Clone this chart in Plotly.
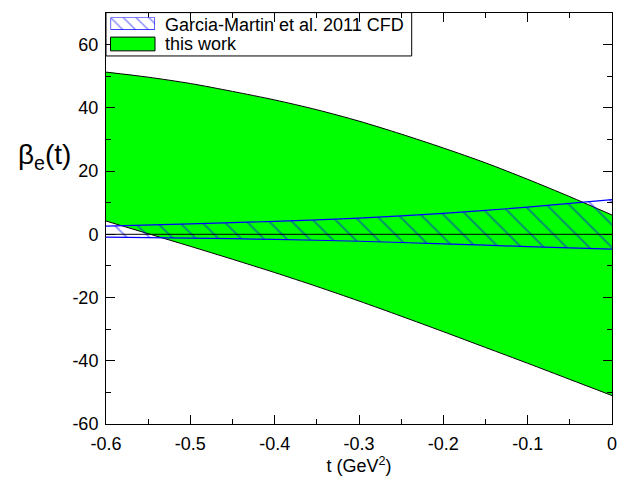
import plotly.graph_objects as go

# t grid (GeV^2)
t_this = [-0.6, -0.55, -0.5, -0.45, -0.4, -0.35, -0.3, -0.25, -0.2, -0.15, -0.1, -0.05, 0.0]
this_upper = [51.3, 49.7, 47.7, 45.2, 42.5, 39.4, 35.8, 31.7, 27.3, 22.6, 17.4, 11.9, 6.1]
this_lower = [4.2, 0.2, -3.8, -7.9, -12.1, -16.5, -21.1, -25.9, -30.8, -35.8, -40.8, -45.9, -51.0]

t_gm = [-0.6, -0.5, -0.4, -0.3, -0.2, -0.1, 0.0]
gm_upper = [2.6, 3.3, 4.1, 5.1, 6.6, 8.6, 11.0]
gm_lower = [-0.9, -1.2, -1.6, -2.2, -3.0, -3.9, -4.7]

x_ticks = [-0.6, -0.5, -0.4, -0.3, -0.2, -0.1, 0]
x_ticklabels = ["-0.6", "-0.5", "-0.4", "-0.3", "-0.2", "-0.1", "0"]
y_ticks = [-60, -40, -20, 0, 20, 40, 60]
y_ticklabels = ["-60", "-40", "-20", "0", "20", "40", "60"]

legend_names = ["Garcia-Martin et al. 2011 CFD", "this work"]

FONT = "Liberation Sans, Arial, sans-serif"
GREEN = "#00ff00"
BLUE = "#0000ff"

fig = go.Figure()

# this work: band between lower and upper
fig.add_trace(go.Scatter(
    x=t_this, y=this_lower, mode="lines",
    line=dict(color="black", width=1, shape="spline", smoothing=0.8),
    showlegend=False, hoverinfo="skip",
))
fig.add_trace(go.Scatter(
    x=t_this, y=this_upper, mode="lines", fill="tonexty", fillcolor=GREEN,
    line=dict(color="black", width=1, shape="spline", smoothing=0.8),
    showlegend=False, hoverinfo="skip",
))

# Garcia-Martin et al. 2011 CFD: hatched band
fig.add_trace(go.Scatter(
    x=t_gm, y=gm_lower, mode="lines",
    line=dict(color=BLUE, width=1.2, shape="spline", smoothing=0.8),
    showlegend=False, hoverinfo="skip",
))
fig.add_trace(go.Scatter(
    x=t_gm, y=gm_upper, mode="lines", fill="tonexty",
    fillcolor="rgba(0,0,0,0)",
    fillpattern=dict(shape="\\", fgcolor=BLUE, bgcolor="rgba(0,0,0,0)",
                     size=16, solidity=0.1),
    line=dict(color=BLUE, width=1.2, shape="spline", smoothing=0.8),
    showlegend=False, hoverinfo="skip",
))

# zero reference line
fig.add_shape(type="line", xref="paper", x0=0, x1=1, yref="y", y0=0, y1=0,
              line=dict(color="black", width=1), layer="above")

axis_common = dict(
    showline=True, linecolor="black", linewidth=1, mirror="ticks",
    ticks="inside", ticklen=9, tickwidth=1, tickcolor="black",
    showgrid=False, zeroline=False,
    tickfont=dict(family=FONT, size=18, color="black"),
)

fig.update_xaxes(
    range=[-0.6, 0], tickvals=x_ticks, ticktext=x_ticklabels,
    minor=dict(dtick=0.05, ticks="inside", ticklen=5, tickcolor="black"),
    title=dict(text="t (GeV<sup>2</sup>)", font=dict(family=FONT, size=18, color="black"), standoff=6),
    ticklabelstandoff=3,
    **axis_common,
)
fig.update_yaxes(
    range=[-60, 70], tickvals=y_ticks, ticktext=y_ticklabels,
    minor=dict(dtick=10, ticks="inside", ticklen=5, tickcolor="black"),
    ticklabelstandoff=3,
    **axis_common,
)

fig.add_annotation(
    text="β<sub>e</sub>(t)", xref="paper", yref="paper",
    x=-0.066, y=0.652, xanchor="right", yanchor="middle", showarrow=False,
    font=dict(family=FONT, size=28, color="black"),
)

# ---- manual legend (box, swatches, labels) ----
def px_x(p):
    return (p - 106) / 506.0

def px_y(p):
    return (431 - p) / 418.0

fig.add_shape(type="rect", xref="paper", yref="paper",
              x0=px_x(106), x1=px_x(411.7), y0=px_y(12.6), y1=px_y(56.7),
              line=dict(color="black", width=1), fillcolor="white", layer="below")

# hatched swatch via a small helper axis
sw1 = (px_x(110.5), px_x(155), px_y(30), px_y(17.5))
fig.update_layout(
    xaxis2=dict(domain=[sw1[0], sw1[1]], range=[0, 1], visible=False, anchor="y2", fixedrange=True),
    yaxis2=dict(domain=[sw1[2], sw1[3]], range=[0, 1], visible=False, anchor="x2", fixedrange=True),
)
fig.add_trace(go.Scatter(
    x=[0, 1, 1, 0, 0], y=[0, 0, 1, 1, 0], xaxis="x2", yaxis="y2",
    mode="lines", fill="toself", fillcolor="white",
    fillpattern=dict(shape="\\", fgcolor=BLUE, bgcolor="white", size=9, solidity=0.15),
    line=dict(color=BLUE, width=1.2), showlegend=False, hoverinfo="skip",
    cliponaxis=False,
))

fig.add_shape(type="rect", xref="paper", yref="paper",
              x0=px_x(110.5), x1=px_x(155), y0=px_y(51.5), y1=px_y(37.5),
              line=dict(color="black", width=1), fillcolor=GREEN, layer="above")

for name, cy in zip(legend_names, [25.7, 44.3]):
    fig.add_annotation(
        text=name, xref="paper", yref="paper", x=px_x(162.5), y=px_y(cy),
        xanchor="left", yanchor="middle", showarrow=False,
        font=dict(family=FONT, size=18, color="black"),
    )

fig.update_layout(
    width=639, height=484,
    margin=dict(l=106, r=27, t=13, b=53),
    paper_bgcolor="white", plot_bgcolor="white",
    showlegend=False,
)

fig.write_html("out.html")
